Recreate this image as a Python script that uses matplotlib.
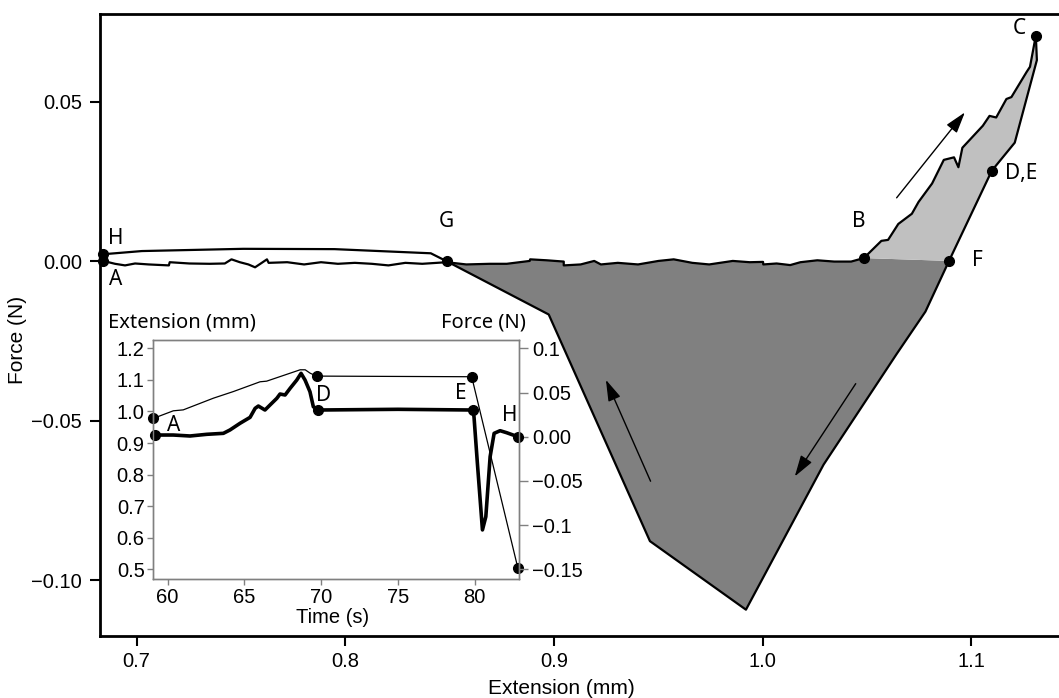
import numpy as np
import matplotlib.pyplot as plt
from matplotlib.ticker import FixedLocator, FixedFormatter, FormatStrFormatter

plt.rcParams['font.family'] = ['Liberation Sans', 'DejaVu Sans']

# ---- main loop (extension mm, force N) ----
# loading along zero: A -> B
flat_x = [0.6841, 0.6897, 0.6945, 0.6993, 0.7058, 0.7155, 0.7159, 0.7253, 0.7350, 0.7423,
          0.7455, 0.7495, 0.7536, 0.7568, 0.7600, 0.7625, 0.7633, 0.7722, 0.7803, 0.7884,
          0.7965, 0.8046, 0.8127, 0.8207, 0.8288, 0.8369, 0.8486, 0.8580, 0.8693, 0.8774,
          0.8884, 0.8886, 0.8966, 0.9047, 0.9047, 0.9128, 0.9193, 0.9225, 0.9306, 0.9403,
          0.9501, 0.9574, 0.9663, 0.9744, 0.9857, 0.9938, 1.0002, 1.0003, 1.0067, 1.0132,
          1.0181, 1.0262, 1.0343, 1.0424, 1.0485]
flat_y = [0.0001, -0.0008, -0.0013, -0.0007, -0.0010, -0.0013, -0.0003, -0.0007, -0.0008, -0.0007,
          0.0006, -0.0003, -0.0010, -0.0019, -0.0005, 0.0006, -0.0005, -0.0003, -0.0010, -0.0003,
          -0.0008, -0.0005, -0.0008, -0.0013, -0.0005, -0.0008, -0.0003, -0.0010, -0.0008, -0.0008,
          0.0001, 0.0006, 0.0003, -0.0001, -0.0013, -0.0010, 0.0001, -0.0010, -0.0005, -0.0010,
          0.0001, 0.0006, -0.0005, -0.0010, 0.0001, -0.0003, -0.0002, -0.0010, -0.0007, -0.0012,
          -0.0003, 0.0003, -0.0001, -0.0001, 0.0010]
# loading: B -> C
rise_x = [1.0485, 1.0569, 1.0601, 1.0650, 1.0715, 1.0747, 1.0812, 1.0868, 1.0917, 1.0938,
          1.0957, 1.1055, 1.1087, 1.1119, 1.1168, 1.1192, 1.1265, 1.1281, 1.1309]
rise_y = [0.0010, 0.0064, 0.0067, 0.0117, 0.0149, 0.0186, 0.0244, 0.0318, 0.0326, 0.0295,
          0.0356, 0.0425, 0.0456, 0.0451, 0.0509, 0.0515, 0.0594, 0.0610, 0.0708]
# unloading: C -> D,E -> F -> minimum -> G
unload_x = [1.1309, 1.1314, 1.1208, 1.1098, 1.0893, 1.0780, 1.0642, 1.0292, 0.9920, 0.9460, 0.8975, 0.8486]
unload_y = [0.0708, 0.0631, 0.0372, 0.0284, 0.0001, -0.0158, -0.0291, -0.0638, -0.1093, -0.0878, -0.0167, 0.0000]
# return: G -> H
return_x = [0.8486, 0.8410, 0.7949, 0.7511, 0.7026, 0.6841]
return_y = [0.0000, 0.0025, 0.0038, 0.0039, 0.0032, 0.0022]

pt_x = [0.6841, 1.0485, 1.1309, 1.1098, 1.0893, 0.8486, 0.6841]
pt_y = [0.0001, 0.0010, 0.0708, 0.0284, 0.0001, 0.0000, 0.0022]
pt_names = ['A', 'B', 'C', 'D,E', 'F', 'G', 'H']
pt_label_pos = [(0.6899, -0.0058), (1.0460, 0.0126), (1.1228, 0.0730), (1.1160, 0.0274),
                (1.1030, 0.0001), (0.8483, 0.0126), (0.6899, 0.0072)]

# ---- inset (time s) ----
ext_t = [59.07, 60.37, 61.02, 62.98, 64.28, 66.02, 66.45, 68.63, 68.96, 69.29, 69.71, 79.80, 82.80]
ext_mm = [0.978, 1.002, 1.005, 1.042, 1.063, 1.094, 1.096, 1.132, 1.132, 1.121, 1.112, 1.110, 0.505]
force_t = [59.18, 60.37, 61.46, 62.55, 63.63, 64.06, 64.72, 65.37, 65.70, 65.91, 66.34, 66.67,
           67.11, 67.32, 67.65, 67.98, 68.41, 68.69, 68.95, 69.27, 69.49, 69.81, 75.00, 79.87,
           79.95, 80.17, 80.50, 80.72, 81.00, 81.26, 81.65, 82.08, 82.80]
force_n = [0.0019, 0.0019, 0.0008, 0.0027, 0.0038, 0.0076, 0.0152, 0.0219, 0.0321, 0.0347, 0.0302, 0.0359,
           0.0434, 0.0483, 0.0472, 0.0548, 0.0641, 0.0717, 0.0641, 0.0509, 0.0339, 0.0302, 0.0310, 0.0302,
           0.0226, -0.0300, -0.1055, -0.0905, -0.0226, 0.0038, 0.0068, 0.0045, 0.0000]
ext_dots_t = [59.07, 69.71, 79.80, 82.80]
ext_dots = [0.978, 1.112, 1.110, 0.505]
force_dots_t = [59.18, 69.81, 79.87, 82.80]
force_dots = [0.0019, 0.0302, 0.0302, 0.0000]
inset_names = ['A', 'D', 'E', 'H']
inset_label_pos = [(60.37, 0.957), (70.14, 1.052), (79.07, 1.058), (82.30, 0.986)]

main_xticks = [0.7, 0.8, 0.9, 1.0, 1.1]
main_yticks = [-0.10, -0.05, 0.00, 0.05]
main_yticklabels = ['\u22120.10', '\u22120.05', '0.00', '0.05']
inset_xticks = [60, 65, 70, 75, 80]
inset_yticks = [0.5, 0.6, 0.7, 0.8, 0.9, 1.0, 1.1, 1.2]
force_ticks = [0.1, 0.05, 0.0, -0.05, -0.1, -0.15]
force_ticklabels = ['0.1', '0.05', '0.00', '\u22120.05', '\u22120.1', '\u22120.15']

W, H = 1059, 698
fig = plt.figure(figsize=(W / 100, H / 100), dpi=100)
ax = fig.add_axes([100 / W, 1 - 635.5 / H, 959 / W, (635.5 - 14.2) / H])

fx, fy = np.array(flat_x), np.array(flat_y)
ux, uy = np.array(unload_x), np.array(unload_y)
sel = fx >= unload_x[-1]
dark_x = np.concatenate([fx[sel], ux[4:]])
dark_y = np.concatenate([fy[sel], uy[4:]])
ax.fill(dark_x, dark_y, color='#808080', lw=0, zorder=1)
light_x = np.concatenate([rise_x, ux[1:5]])
light_y = np.concatenate([rise_y, uy[1:5]])
ax.fill(light_x, light_y, color='#c0c0c0', lw=0, zorder=1)

for xs, ys in [(flat_x, flat_y), (rise_x, rise_y), (unload_x, unload_y), (return_x, return_y)]:
    ax.plot(xs, ys, color='black', lw=1.6, zorder=2)
ax.plot(pt_x, pt_y, 'o', color='black', ms=7, zorder=3, clip_on=False)
for name, (lx, ly) in zip(pt_names, pt_label_pos):
    ha = 'left' if name == 'D,E' else 'center'
    ax.text(lx, ly, name, ha=ha, va='center', fontsize=15, family='Noto Sans')

arrows = [((1.0642, 0.0199), (1.0969, 0.0467)),
          ((0.9463, -0.0690), (0.9249, -0.0372)),
          ((1.0446, -0.0384), (1.0154, -0.0675))]
for start, end in arrows:
    ax.annotate('', xy=end, xytext=start,
                arrowprops=dict(arrowstyle='-|>,head_length=0.65,head_width=0.2',
                                color='black', lw=1, mutation_scale=20, shrinkA=0, shrinkB=0))

ax.set_xlim(0.6825, 1.142)
ax.set_ylim(-0.1174, 0.0775)
ax.set_xticks(main_xticks)
ax.xaxis.set_major_formatter(FormatStrFormatter('%.1f'))
ax.yaxis.set_major_locator(FixedLocator(main_yticks))
ax.yaxis.set_major_formatter(FixedFormatter(main_yticklabels))
ax.spines['right'].set_visible(False)
for s in ['top', 'left', 'bottom']:
    ax.spines[s].set_linewidth(2)
ax.tick_params(direction='out', length=7, width=1.5, labelsize=14.5)
ax.tick_params(axis='x', pad=5)
ax.tick_params(axis='y', pad=6)
fig.text(561.7 / W, 1 - 689 / H, 'Extension (mm)', ha='center', va='center', fontsize=15)
fig.text(18 / W, 1 - 340 / H, 'Force (N)', ha='center', va='center', rotation=90, fontsize=15)

# ---- inset ----
ax_in = fig.add_axes([153 / W, 1 - 578.7 / H, (519 - 153) / W, (578.7 - 339.5) / H])
ax_in.plot(ext_t, ext_mm, color='black', lw=0.9)
ax_in.plot(ext_dots_t, ext_dots, 'o', color='black', ms=7, clip_on=False)
ax_in.set_xlim(59.05, 82.88)
ax_in.set_ylim(0.470, 1.228)
ax_in.set_xticks(inset_xticks)
ax_in.set_yticks(inset_yticks)
ax_in.yaxis.set_major_formatter(FormatStrFormatter('%.1f'))
for name, (lx, ly) in zip(inset_names, inset_label_pos):
    ax_in.text(lx, ly, name, ha='center', va='center', fontsize=15, family='Noto Sans')

ax_f = ax_in.twinx()
ax_f.plot(force_t, force_n, color='black', lw=2.6, solid_joinstyle='round')
ax_f.plot(force_dots_t, force_dots, 'o', color='black', ms=7, clip_on=False)
ax_f.set_ylim(-0.1607, 0.110)
ax_f.yaxis.set_major_locator(FixedLocator(force_ticks))
ax_f.yaxis.set_major_formatter(FixedFormatter(force_ticklabels))

for a in (ax_in, ax_f):
    for s in a.spines.values():
        s.set_color('#808080')
        s.set_linewidth(1)
ax_in.tick_params(direction='out', length=4, width=1, color='#808080', labelsize=14.5)
ax_in.tick_params(axis='y', pad=2)
ax_in.tick_params(axis='x', pad=3)
ax_f.tick_params(direction='out', length=6.5, width=1, color='#808080', labelsize=14.5, pad=3)

fig.text(108 / W, 1 - 322.6 / H, 'Extension (mm)', ha='left', va='center', fontsize=14.5, family='Noto Sans')
fig.text(441 / W, 1 - 322.6 / H, 'Force (N)', ha='left', va='center', fontsize=14.5, family='Noto Sans')
fig.text(332.8 / W, 1 - 617.6 / H, 'Time (s)', ha='center', va='center', fontsize=14.5)

fig.savefig('out.png', dpi=100)
